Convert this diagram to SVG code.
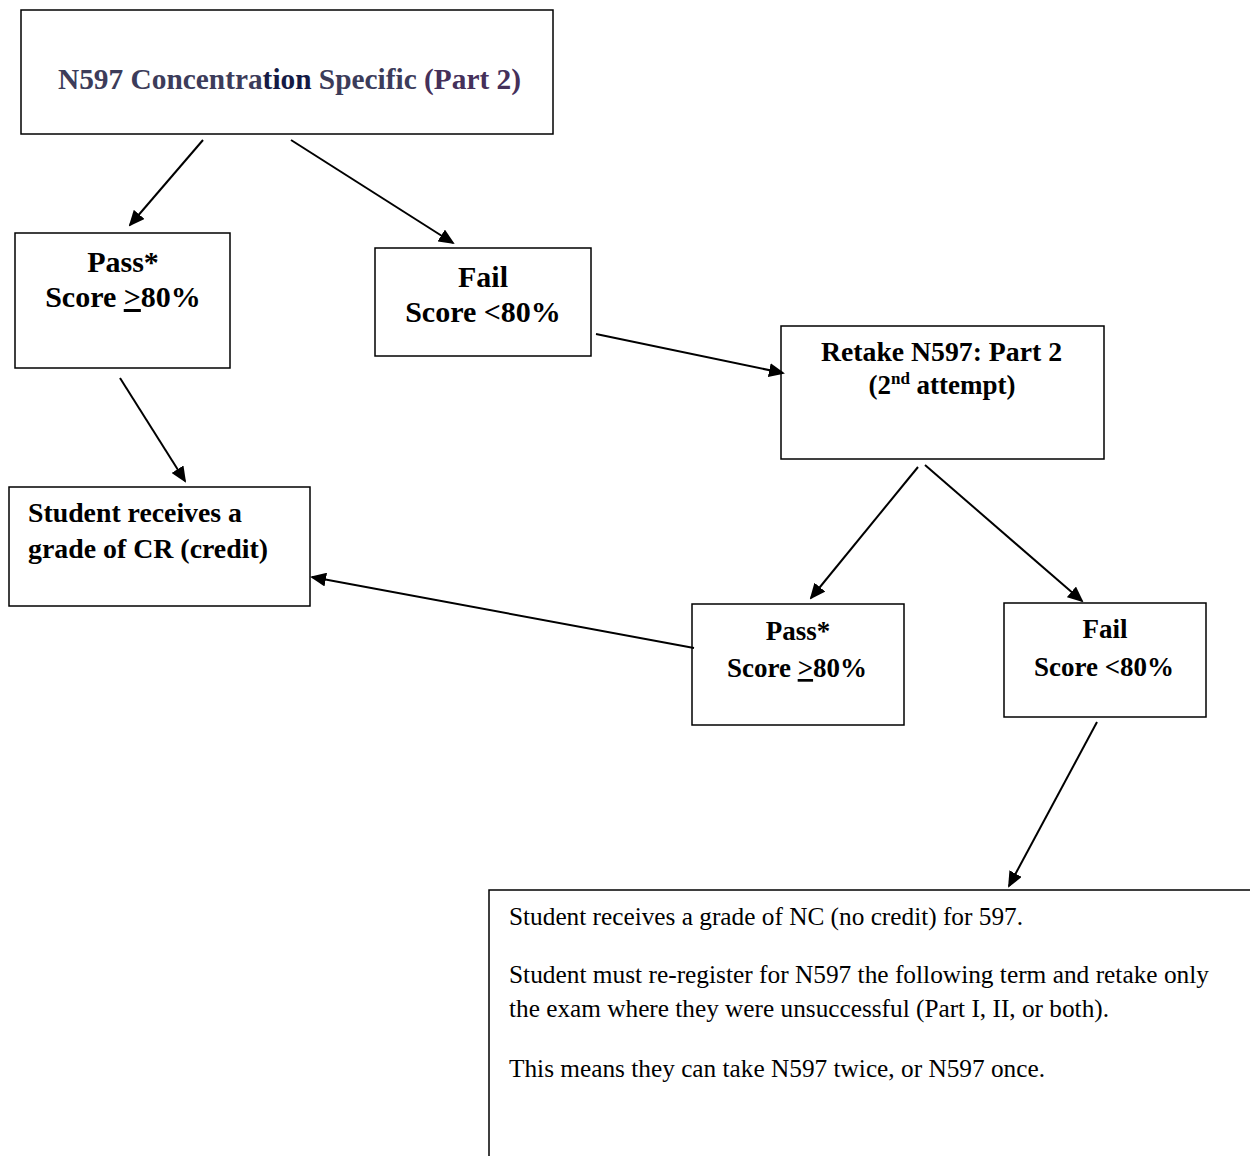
<svg xmlns="http://www.w3.org/2000/svg" width="1250" height="1156" viewBox="0 0 1250 1156">
<style>
.box{fill:#fff;stroke:#000;stroke-width:1.5}
.b{font-family:"Liberation Serif",serif;font-weight:bold;fill:#000}
.n{font-family:"Liberation Serif",serif;font-size:25px;fill:#000}
.c{stroke:#000;stroke-width:2;fill:none;marker-end:url(#ah)}
</style>
<defs>
<marker id="ah" markerWidth="8" markerHeight="7" refX="7" refY="3.5" orient="auto" markerUnits="strokeWidth">
<path d="M0,0 L8,3.5 L0,7 Z" fill="#000"/>
</marker>
</defs>
<rect width="1250" height="1156" fill="#fff"/>
<g id="title">
<rect class="box" x="21" y="10" width="532" height="124"/>
<text class="b" x="58" y="89" font-size="29" textLength="463" lengthAdjust="spacingAndGlyphs" style="fill:#3c3c5a">N597 Concentra<tspan style="fill:#141a45">tion</tspan> Specific <tspan style="fill:#45305a">(Part 2)</tspan></text>
</g>
<g id="pass1">
<rect class="box" x="15" y="233" width="215" height="135"/>
<text class="b" x="123" y="272" font-size="30" text-anchor="middle">Pass*</text>
<text class="b" x="123" y="307" font-size="30" text-anchor="middle">Score <tspan text-decoration="underline">&gt;</tspan>80%</text>
</g>
<g id="fail1">
<rect class="box" x="375" y="248" width="216" height="108"/>
<text class="b" x="483" y="287" font-size="30" text-anchor="middle">Fail</text>
<text class="b" x="483" y="322" font-size="30" text-anchor="middle">Score &lt;80%</text>
</g>
<g id="retake">
<rect class="box" x="781" y="326" width="323" height="133"/>
<text class="b" x="821" y="361" font-size="27" textLength="241" lengthAdjust="spacingAndGlyphs">Retake N597: Part 2</text>
<text class="b" x="942" y="394" font-size="27" text-anchor="middle">(2<tspan font-size="17" dy="-10">nd</tspan><tspan dy="10"> attempt)</tspan></text>
</g>
<g id="credit">
<rect class="box" x="9" y="487" width="301" height="119"/>
<text class="b" x="28" y="522" font-size="27" textLength="214" lengthAdjust="spacingAndGlyphs">Student receives a</text>
<text class="b" x="28" y="558" font-size="27" textLength="240" lengthAdjust="spacingAndGlyphs">grade of CR (credit)</text>
</g>
<g id="pass2">
<rect class="box" x="692" y="604" width="212" height="121"/>
<text class="b" x="798" y="640" font-size="27" text-anchor="middle">Pass*</text>
<text class="b" x="797" y="677" font-size="27" text-anchor="middle">Score <tspan text-decoration="underline">&gt;</tspan>80%</text>
</g>
<g id="fail2">
<rect class="box" x="1004" y="603" width="202" height="114"/>
<text class="b" x="1105" y="638" font-size="27" text-anchor="middle">Fail</text>
<text class="b" x="1104" y="676" font-size="27" text-anchor="middle">Score &lt;80%</text>
</g>
<g id="nocredit">
<rect class="box" x="489" y="890" width="780" height="300"/>
<text class="n" x="509" y="925" textLength="514" lengthAdjust="spacingAndGlyphs">Student receives a grade of NC (no credit) for 597.</text>
<text class="n" x="509" y="983" textLength="700" lengthAdjust="spacingAndGlyphs">Student must re-register for N597 the following term and retake only</text>
<text class="n" x="509" y="1017" textLength="600" lengthAdjust="spacingAndGlyphs">the exam where they were unsuccessful (Part I, II, or both).</text>
<text class="n" x="509" y="1077" textLength="536" lengthAdjust="spacingAndGlyphs">This means they can take N597 twice, or N597 once.</text>
</g>
<g id="connectors">
<line class="c" x1="203" y1="140" x2="130" y2="225"/>
<line class="c" x1="291" y1="140" x2="453" y2="243"/>
<line class="c" x1="596" y1="334" x2="783" y2="373"/>
<line class="c" x1="120" y1="378" x2="185" y2="481"/>
<line class="c" x1="694" y1="648" x2="312" y2="577"/>
<line class="c" x1="918" y1="467" x2="811" y2="598"/>
<line class="c" x1="925" y1="465" x2="1082" y2="601"/>
<line class="c" x1="1097" y1="722" x2="1009" y2="886"/>
</g>
</svg>
